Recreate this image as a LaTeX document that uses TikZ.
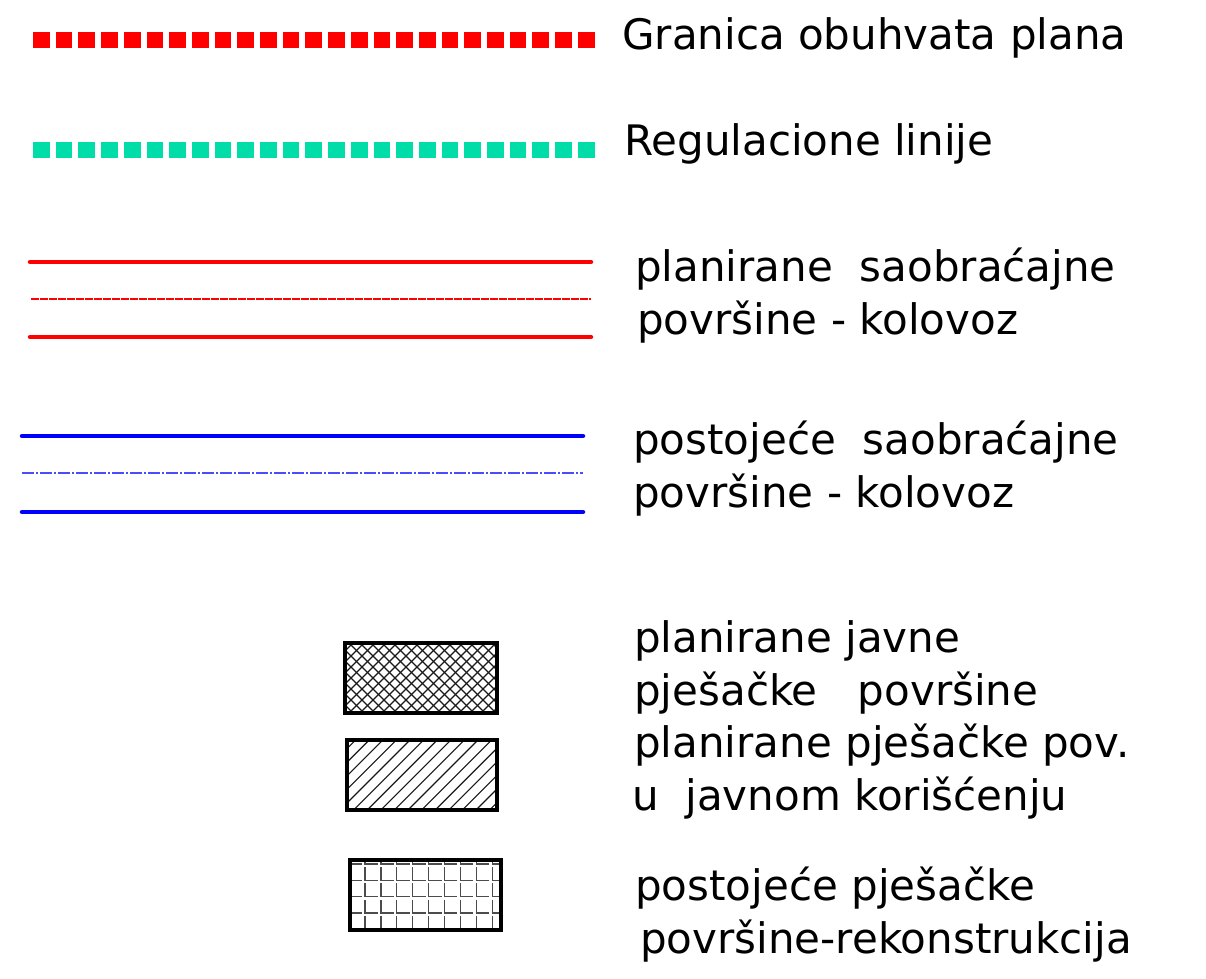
\documentclass[tikz,border=0pt]{standalone}
\usepackage{fontspec}
\setmainfont{DejaVu Sans}
\usetikzlibrary{calc}

\definecolor{granica}{RGB}{255,0,0}
\definecolor{regul}{RGB}{0,221,168}
\definecolor{plavo}{RGB}{0,0,255}

\begin{document}
\begin{tikzpicture}[x=1pt,y=-1pt,
    lbl/.style={anchor=base west,inner sep=0pt,font=\fontsize{42}{50}\selectfont},
    squares/.style={line width=16pt,dash pattern=on 16.7pt off 6pt},
    road/.style={line width=4.5pt,line cap=round},
    frame/.style={line width=4.5pt},
    hatch/.style={line width=1.1pt,black!90},
    gridl/.style={line width=1.2pt,black!70}]
    \useasboundingbox[fill=white] (0,0) rectangle (1206,978);

    % granica i regulacija
    \draw[squares,granica] (33,40) -- (595,40);
    \draw[squares,regul] (33,150) -- (595,150);
    \node[lbl] (t1) at (622,49) {Granica obuhvata plana};
    \node[lbl] (t2) at (624,155) {Regulacione linije};

    % saobracajnice
    \draw[road,granica] (30,262) -- (591,262);
    \draw[granica,line width=1.2pt,dash pattern=on 8pt off 1pt] (31,299) -- (591,299);
    \draw[road,granica] (30,337) -- (591,337);
    \node[lbl] (t3a) at (635,281) {planirane\ \ saobraćajne};
    \node[lbl] (t3b) at (637,334) {površine - kolovoz};

    \draw[road,plavo] (22,436) -- (583,436);
    \draw[plavo!70,line width=1.2pt,dash pattern=on 12pt off 2pt on 2pt off 2pt] (22,473) -- (583,473);
    \draw[road,plavo] (22,512) -- (583,512);
    \node[lbl] (t4a) at (633,454) {postojeće\ \ saobraćajne};
    \node[lbl] (t4b) at (633,507) {površine - kolovoz};

    % pjesacke povrsine
    \begin{scope}
      \clip (345,643) rectangle (497,713);
      \foreach \k in {0,...,21} {
        \draw[hatch] ({272+11*\k},643) -- ++(70,70);
        \draw[hatch] ({272+11*\k},713) -- ++(70,-70);
      }
    \end{scope}
    \draw[frame] (345,643) rectangle (497,713);
    \node[lbl] (t5a) at (634,652) {planirane javne};
    \node[lbl] (t5b) at (634,705) {pješačke\ \ \ površine};

    \begin{scope}
      \clip (347,740) rectangle (497,810);
      \foreach \k in {0,...,17}
        \draw[hatch] ({272+13.6*\k},810) -- ++(72,-72);
    \end{scope}
    \draw[frame] (347,740) rectangle (497,810);
    \node[lbl] (t6a) at (634,757) {planirane pješačke pov.};
    \node[lbl] (t6b) at (632,810) {u\ \ javnom korišćenju};

    \begin{scope}
      \clip (350,860) rectangle (501,930);
      \foreach \i in {0,...,9}
        \foreach \j in {-1,...,4}
          \draw[gridl] ({349.1+15.9*\i},{864+16.3*\j+3}) -- ({349.1+15.9*\i},{864+16.3*(\j+1)})
            -- ({349.1+15.9*(\i+1)-3},{864+16.3*(\j+1)});
    \end{scope}
    \draw[frame] (350,860) rectangle (501,930);
    \node[lbl] (t7a) at (635,900) {postojeće pješačke};
    \node[lbl] (t7b) at (640,953) {površine-rekonstrukcija};
\end{tikzpicture}
\end{document}
